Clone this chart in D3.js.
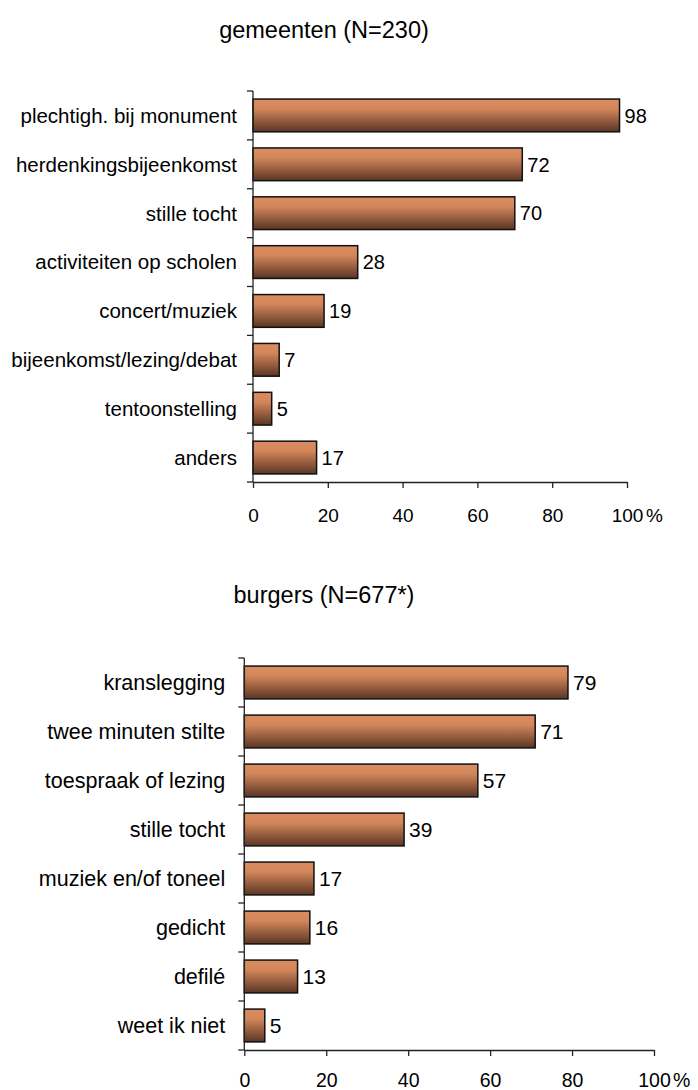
<!DOCTYPE html>
<html><head><meta charset="utf-8">
<script src="https://cdn.jsdelivr.net/npm/d3@7"></script>
<style>body{margin:0;background:#fff}svg{display:block}text{font-family:"Liberation Sans",Arial,sans-serif;fill:#000}</style>
</head><body><svg id="c" width="698" height="1090"></svg>
<script>
const titles = ["gemeenten (N=230)", "burgers (N=677*)"];
const categories1 = ["plechtigh. bij monument","herdenkingsbijeenkomst","stille tocht","activiteiten op scholen","concert/muziek","bijeenkomst/lezing/debat","tentoonstelling","anders"];
const values1 = [98, 72, 70, 28, 19, 7, 5, 17];
const categories2 = ["kranslegging","twee minuten stilte","toespraak of lezing","stille tocht","muziek en/of toneel","gedicht","defilé","weet ik niet"];
const values2 = [79, 71, 57, 39, 17, 16, 13, 5];
const xTicks = [0, 20, 40, 60, 80, 100];
const unitLabel = "%";

const svg = d3.select("#c");
const defs = svg.append("defs");
const g = defs.append("linearGradient").attr("id","barGrad").attr("x1",0).attr("y1",0).attr("x2",0).attr("y2",1);
g.append("stop").attr("offset","0%").attr("stop-color","#db8d61");
g.append("stop").attr("offset","30%").attr("stop-color","#d2865a");
g.append("stop").attr("offset","100%").attr("stop-color","#5a3525");

function drawChart(cfg){
  const x = d3.scaleLinear().domain([0,100]).range([cfg.x0, cfg.x1]);
  const y = d3.scaleBand().domain(cfg.cats).range([cfg.yTop, cfg.yBot]).paddingInner(0.33).paddingOuter(0.165);
  const root = svg.append("g");
  root.append("text").attr("x", cfg.titleX).attr("y", cfg.titleY).attr("text-anchor","middle")
    .style("font-size", cfg.titleSize+"px").text(cfg.title);
  root.selectAll("rect.bar").data(cfg.vals).join("rect").attr("class","bar")
    .attr("x", x(0)).attr("y",(d,i)=>y(cfg.cats[i]))
    .attr("width", d=>x(d)-x(0)).attr("height", y.bandwidth())
    .attr("fill","url(#barGrad)").attr("stroke","#111").attr("stroke-width",1.5);
  root.selectAll("text.val").data(cfg.vals).join("text").attr("class","val")
    .attr("x", d=>x(d)+5).attr("y",(d,i)=>y(cfg.cats[i])+y.bandwidth()/2)
    .attr("dy","0.36em").style("font-size", cfg.valSize+"px").text(d=>d);
  root.selectAll("text.cat").data(cfg.cats).join("text").attr("class","cat")
    .attr("x", cfg.x0 - cfg.labelGap).attr("y", d=>y(d)+y.bandwidth()/2)
    .attr("dy","0.36em").attr("text-anchor","end").style("font-size", cfg.catSize+"px").text(d=>d);
  const bounds = d3.range(cfg.cats.length+1).map(i=>cfg.yTop + i*(cfg.yBot-cfg.yTop)/cfg.cats.length);
  root.append("line").attr("x1",x(0)).attr("x2",x(0)).attr("y1",cfg.yTop).attr("y2",cfg.yBot).attr("stroke","#222").attr("stroke-width",1.3);
  root.selectAll("line.yt").data(bounds).join("line").attr("class","yt")
    .attr("x1",x(0)-6).attr("x2",x(0)).attr("y1",d=>d).attr("y2",d=>d).attr("stroke","#222").attr("stroke-width",1.3);
  const xa = d3.axisBottom(x).tickValues(xTicks).tickSize(6).tickSizeOuter(0).tickFormat(d3.format("d"));
  const ax = root.append("g").attr("transform",`translate(0,${cfg.yBot})`).call(xa);
  ax.select(".domain").attr("stroke","#222").attr("stroke-width",1.3);
  ax.selectAll(".tick line").attr("stroke","#222").attr("stroke-width",1.3);
  ax.selectAll(".tick text").attr("y", cfg.tickTextY).attr("dy","0").style("font-size", cfg.tickSize+"px")
    .style("font-family","Liberation Sans, Arial, sans-serif").attr("fill","#000");
  root.append("text").attr("x", x(100)+cfg.unitDx).attr("y", cfg.yBot+cfg.tickTextY).style("font-size", cfg.tickSize+"px").text(unitLabel);
}

drawChart({title:titles[0], cats:categories1, vals:values1, x0:253, x1:627, yTop:91, yBot:482,
  titleX:324, titleY:38, titleSize:23.5, valSize:20, catSize:20.5, labelGap:16, tickSize:19, tickTextY:40, unitDx:19});
drawChart({title:titles[1], cats:categories2, vals:values2, x0:244.3, x1:654, yTop:658, yBot:1050,
  titleX:324, titleY:603, titleSize:23.5, valSize:21, catSize:21.5, labelGap:19, tickSize:19.5, tickTextY:37, unitDx:19});
</script></body></html>
